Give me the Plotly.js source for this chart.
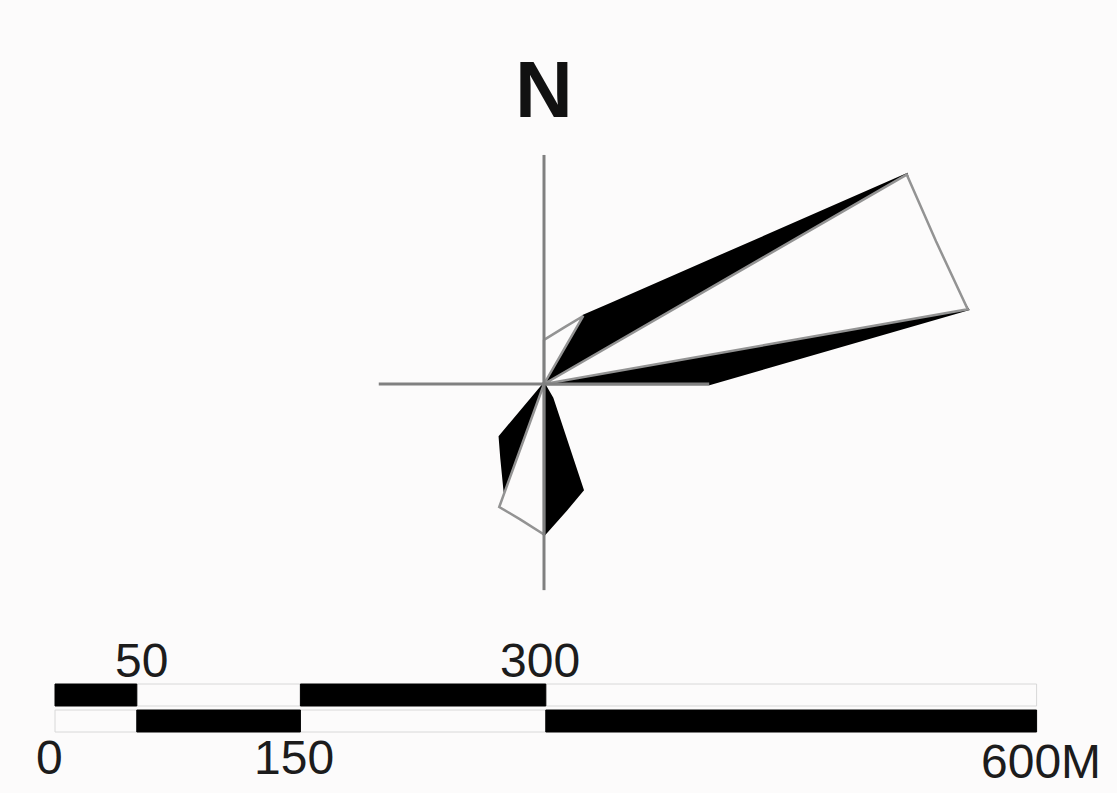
<!DOCTYPE html>
<html>
<head>
<meta charset="utf-8">
<script src="https://cdn.plot.ly/plotly-3.0.1.min.js"></script>
<style>
  html, body { margin: 0; padding: 0; background: #fcfbfb; }
  #chart { width: 1117px; height: 793px; }
</style>
</head>
<body>
<div id="chart"></div>
<script>
// ---- Rose data (direction in degrees clockwise from north, length in metres) ----
const directions = [0, 10, 20, 30, 40, 50, 60, 70, 80, 90, 100, 110, 120, 130, 140, 150, 160, 170,
                    180, 190, 200, 210, 220, 230, 240, 250, 260, 270, 280, 290, 300, 310, 320, 330, 340, 350];
const outlineLength = [27, 31, 37, 48, 0, 0, 256, 255, 263, 0, 0, 0, 0, 0, 0, 0, 0, 0,
                       92, 84, 80, 0, 0, 0, 0, 0, 0, 0, 0, 0, 0, 0, 0, 0, 0, 0];
const blackLength   = [0, 0, 0, 48, 64, 101, 256, 248, 263, 101, 0, 0, 0, 0, 0, 10, 69, 78,
                       92, 78, 70, 52, 42, 0, 0, 0, 0, 0, 0, 0, 0, 0, 0, 0, 0, 0];

// ---- Compass cross arms (N, E, S, W) ----
const crossDirections = [0, 90, 180, 270];
const crossLengths = [140, 101, 126, 101];

// ---- Scale bar ----
const scaleEdges = [0, 50, 150, 300, 600];
const scaleLabels = ['0', '50', '150', '300', '600M'];

// ---- geometry / style constants (layout only) ----
const W = 1117, H = 793;
const PX = 1.636;          // pixels per metre
const scaleZeroPx = 55;    // x pixel of the scale bar origin
const roseCX = 544, roseCY = 384;
const upperRowY = 695, lowerRowY = 721;   // pixel rows of the scale bar
const upperLabelY = 660, lowerLabelY = 757;
const labelShiftX = [-6, 5, -6, -6, 4];
const labelShiftY = [0, 0, 0, 0, -4];

const rad = d => d * Math.PI / 180;
function polygon(dirs, lens) {
  const x = [], y = [];
  dirs.forEach((d, i) => { x.push(lens[i] * Math.sin(rad(d))); y.push(lens[i] * Math.cos(rad(d))); });
  x.push(x[0]); y.push(y[0]);
  return {x, y};
}

const blackPoly = polygon(directions, blackLength);
const outlinePoly = polygon(directions, outlineLength);

const crossX = [], crossY = [];
crossDirections.forEach((d, i) => {
  crossX.push(0, crossLengths[i] * Math.sin(rad(d)), null);
  crossY.push(0, crossLengths[i] * Math.cos(rad(d)), null);
});

// scale blocks
const blkBase = [], blkLen = [], blkRow = [], whtBase = [], whtLen = [], whtRow = [];
for (let i = 0; i < scaleEdges.length - 1; i++) {
  const up = (i % 2 === 0);
  blkBase.push(scaleEdges[i]); blkLen.push(scaleEdges[i + 1] - scaleEdges[i]);
  blkRow.push(up ? upperRowY : lowerRowY);
  whtBase.push(scaleEdges[i]); whtLen.push(scaleEdges[i + 1] - scaleEdges[i]);
  whtRow.push(up ? lowerRowY : upperRowY);
}

const traces = [
  { type: 'bar', orientation: 'h', base: whtBase, x: whtLen, y: whtRow, width: 22,
    marker: { color: '#fcfbfb', line: { color: '#d8d8d8', width: 1 } },
    xaxis: 'x', yaxis: 'y', hoverinfo: 'skip', showlegend: false },
  { type: 'bar', orientation: 'h', base: blkBase, x: blkLen, y: blkRow, width: 22,
    marker: { color: '#000000', line: { color: '#000000', width: 1 } },
    xaxis: 'x', yaxis: 'y', hoverinfo: 'skip', showlegend: false },
  { type: 'scatter', mode: 'lines', x: blackPoly.x, y: blackPoly.y, fill: 'toself',
    fillcolor: '#000000', line: { color: '#000000', width: 2.5, join: 'round' },
    xaxis: 'x2', yaxis: 'y2', hoverinfo: 'skip', showlegend: false },
  { type: 'scatter', mode: 'lines', x: outlinePoly.x, y: outlinePoly.y, fill: 'toself',
    fillcolor: '#fcfbfb', line: { color: '#939393', width: 2.5 },
    xaxis: 'x2', yaxis: 'y2', hoverinfo: 'skip', showlegend: false },
  { type: 'scatter', mode: 'lines', x: crossX, y: crossY,
    line: { color: '#808080', width: 3 },
    xaxis: 'x2', yaxis: 'y2', hoverinfo: 'skip', showlegend: false }
];

const annotations = scaleLabels.map((t, i) => ({
  text: t, x: scaleEdges[i], y: (i % 2 === 1) ? upperLabelY : lowerLabelY,
  xshift: labelShiftX[i], yshift: labelShiftY[i],
  xref: 'x', yref: 'y', showarrow: false, xanchor: 'center', yanchor: 'middle',
  font: { family: 'Liberation Sans, Arial, sans-serif', size: 48, color: '#1c1c1c' }
}));
annotations.push({
  text: '<b>N</b>', x: 0, y: (roseCY - 89) / PX, xref: 'x2', yref: 'y2', showarrow: false,
  xanchor: 'center', yanchor: 'middle',
  font: { family: 'Liberation Sans, Arial, sans-serif', size: 80, color: '#111111' }
});

const layout = {
  width: W, height: H,
  margin: { l: 0, r: 0, t: 0, b: 0, pad: 0 },
  paper_bgcolor: '#fcfbfb', plot_bgcolor: '#fcfbfb',
  barmode: 'overlay',
  showlegend: false,
  xaxis: { range: [-scaleZeroPx / PX, (W - scaleZeroPx) / PX], visible: false, fixedrange: true, domain: [0, 1] },
  yaxis: { range: [H, 0], visible: false, fixedrange: true, domain: [0, 1] },
  xaxis2: { range: [-roseCX / PX, (W - roseCX) / PX], visible: false, overlaying: 'x', anchor: 'y2', fixedrange: true },
  yaxis2: { range: [-(H - roseCY) / PX, roseCY / PX], visible: false, overlaying: 'y', anchor: 'x2', fixedrange: true },
  annotations: annotations
};

Plotly.newPlot('chart', traces, layout, { staticPlot: true, displayModeBar: false });
</script>
</body>
</html>
